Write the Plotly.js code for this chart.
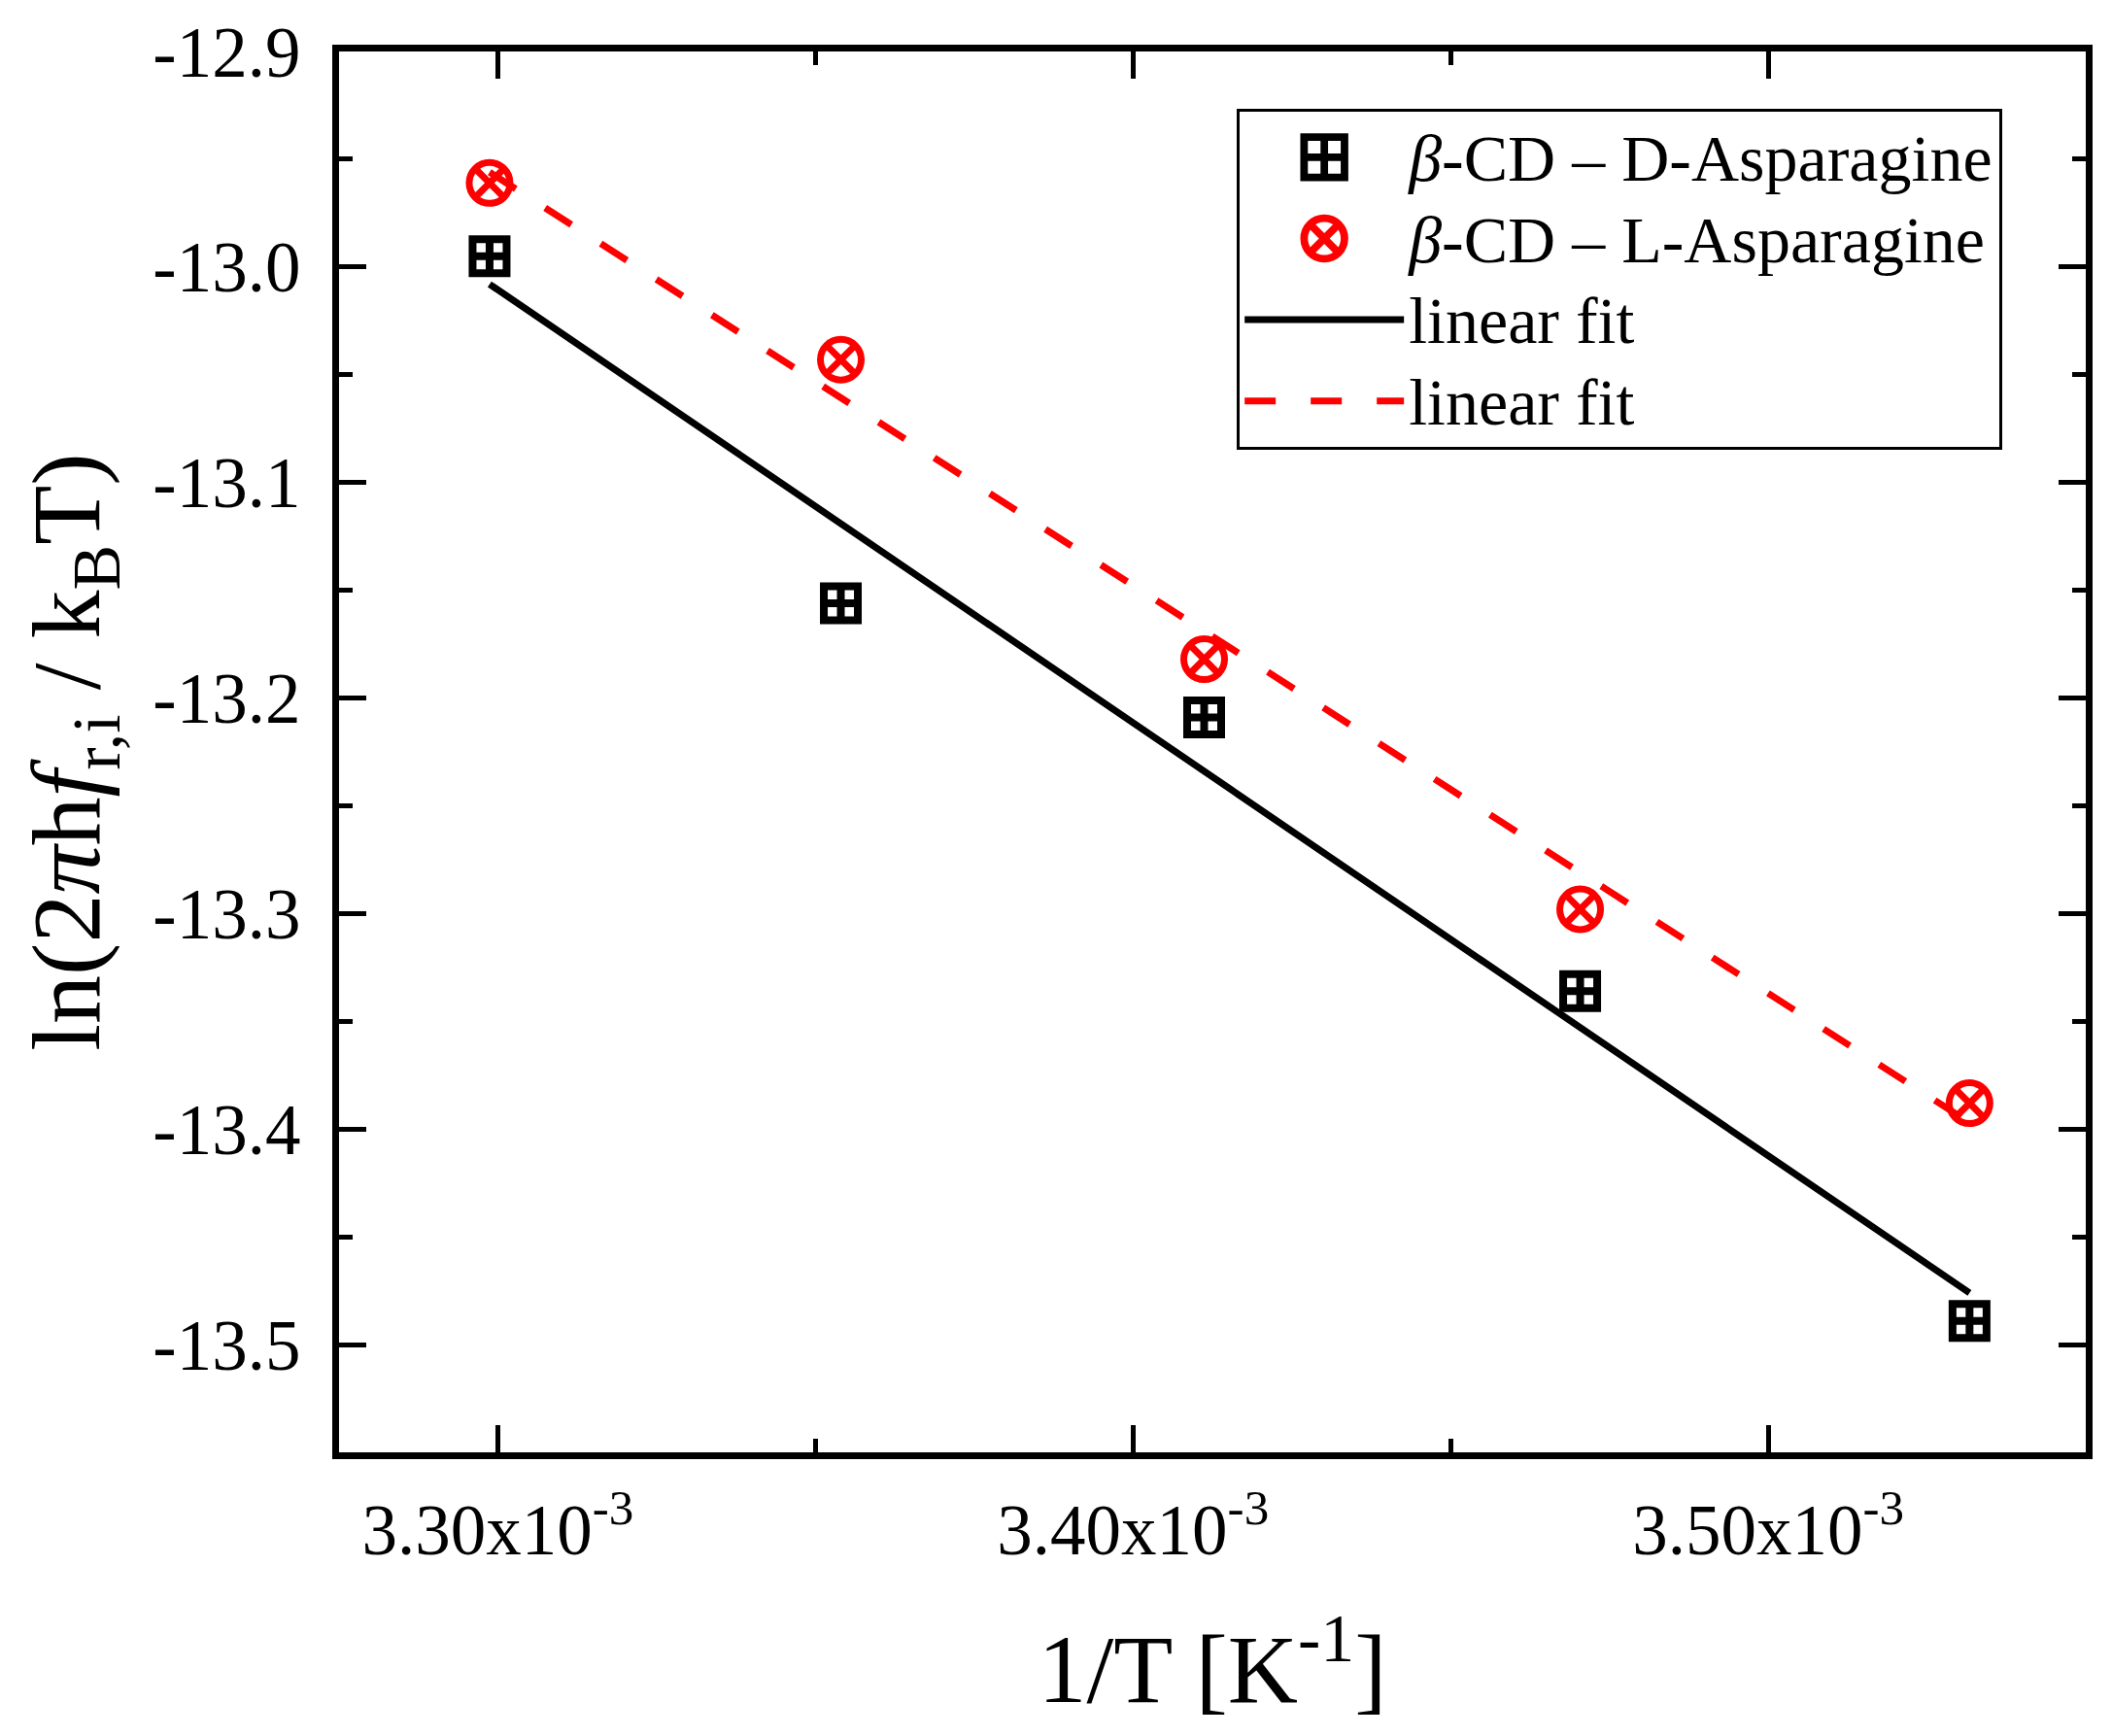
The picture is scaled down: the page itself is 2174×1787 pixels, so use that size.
<!DOCTYPE html>
<html>
<head>
<meta charset="utf-8">
<script src="https://cdn.plot.ly/plotly-3.0.1.min.js"></script>
<style>body{margin:0;background:#fff}</style>
</head>
<body>
<div id="chart" style="width:2174px;height:1787px"></div>
<script>
// 1/T [K^-1]
var invT = [3.2987e-3, 3.3540e-3, 3.4112e-3, 3.4704e-3, 3.5317e-3];
// ln(2 pi h f / kB T) values
var dAsn = [-12.995, -13.156, -13.209, -13.336, -13.489];
var lAsn = [-12.961, -13.043, -13.182, -13.298, -13.388];
// linear fit end points
var fitX = [3.2987e-3, 3.5317e-3];
var fitD = [-13.008, -13.476];
var fitL = [-12.956, -13.397];

var xTicks = [3.30e-3, 3.40e-3, 3.50e-3];
var xTickText = ['3.30x10<sup>-3</sup>', '3.40x10<sup>-3</sup>', '3.50x10<sup>-3</sup>'];
var yTicks = [-12.9, -13.0, -13.1, -13.2, -13.3, -13.4, -13.5];
var yTickText = ['-12.9', '-13.0', '-13.1', '-13.2', '-13.3', '-13.4', '-13.5'];

var serif = 'Liberation Serif, Times New Roman, serif';
// legend text drawn a bit larger than the row height plotly derives from legend.font
function big(s) { return '<span style="font-size:68px">' + s + '</span>'; }

var data = [
    {
        x: invT, y: dAsn, mode: 'markers', type: 'scatter',
        name: big('<i>β</i>-CD – D-Asparagine'),
        marker: {symbol: 'square-cross-open', size: 35, color: '#000', line: {width: 8, color: '#000'}}
    },
    {
        x: invT, y: lAsn, mode: 'markers', type: 'scatter',
        name: big('<i>β</i>-CD – L-Asparagine'),
        marker: {symbol: 'circle-x-open', size: 42, color: '#ff0000', line: {width: 7, color: '#ff0000'}}
    },
    {
        x: fitX, y: fitD, mode: 'lines', type: 'scatter',
        name: big('linear fit'),
        line: {color: '#000', width: 7}
    },
    {
        x: fitX, y: fitL, mode: 'lines', type: 'scatter',
        name: big('linear fit'),
        line: {color: '#ff0000', width: 7, dash: '32px,36px'}
    }
];

var axisCommon = {
    showline: true, linewidth: 7, linecolor: '#000',
    mirror: 'ticks', ticks: 'inside', ticklen: 28, tickwidth: 5, tickcolor: '#000',
    showgrid: false, zeroline: false,
    tickfont: {family: serif, size: 73, color: '#000'}
};

var layout = {
    width: 2174, height: 1787,
    margin: {l: 349, r: 27, t: 53, b: 292},
    paper_bgcolor: '#fff', plot_bgcolor: '#fff',
    font: {family: serif, color: '#000'},
    xaxis: Object.assign({}, axisCommon, {
        range: [3.275e-3, 3.55e-3],
        tickmode: 'array', tickvals: xTicks, ticktext: xTickText,
        ticklabelstandoff: 10,
        minor: {tickmode: 'linear', tick0: 3.30e-3, dtick: 0.05e-3, ticks: 'inside', ticklen: 14, tickwidth: 5, tickcolor: '#000'},
        title: {text: '1/T [K<sup>-1</sup>]', font: {family: serif, size: 100, color: '#000'}, standoff: 70}
    }),
    yaxis: Object.assign({}, axisCommon, {
        range: [-13.55, -12.9],
        tickmode: 'array', tickvals: yTicks, ticktext: yTickText,
        ticklabelstandoff: 18,
        minor: {tickmode: 'linear', tick0: -12.9, dtick: 0.05, ticks: 'inside', ticklen: 14, tickwidth: 5, tickcolor: '#000'},
        title: {text: 'ln(2<i>π</i>h<i>f</i><sub>r,i</sub> / k<sub>B</sub>T)', font: {family: serif, size: 100, color: '#000'}, standoff: 24}
    }),
    showlegend: true,
    legend: {
        x: 0.514, y: 0.959, xanchor: 'left', yanchor: 'top',
        bgcolor: '#fff', bordercolor: '#000', borderwidth: 3,
        font: {family: serif, size: 62, color: '#000'},
        itemwidth: 164, tracegroupgap: 0
    }
};

Plotly.newPlot('chart', data, layout, {displayModeBar: false, staticPlot: true}).then(function (gd) {
    // legend markers are capped small by plotly, grow them to the plot size
    gd.querySelectorAll('.legend .legendpoints path.scatterpts').forEach(function (p) {
        var t = p.getAttribute('transform') || '';
        p.setAttribute('transform', t + ' scale(2.6)');
        p.style.strokeWidth = '3px';
    });
});
</script>
</body>
</html>
